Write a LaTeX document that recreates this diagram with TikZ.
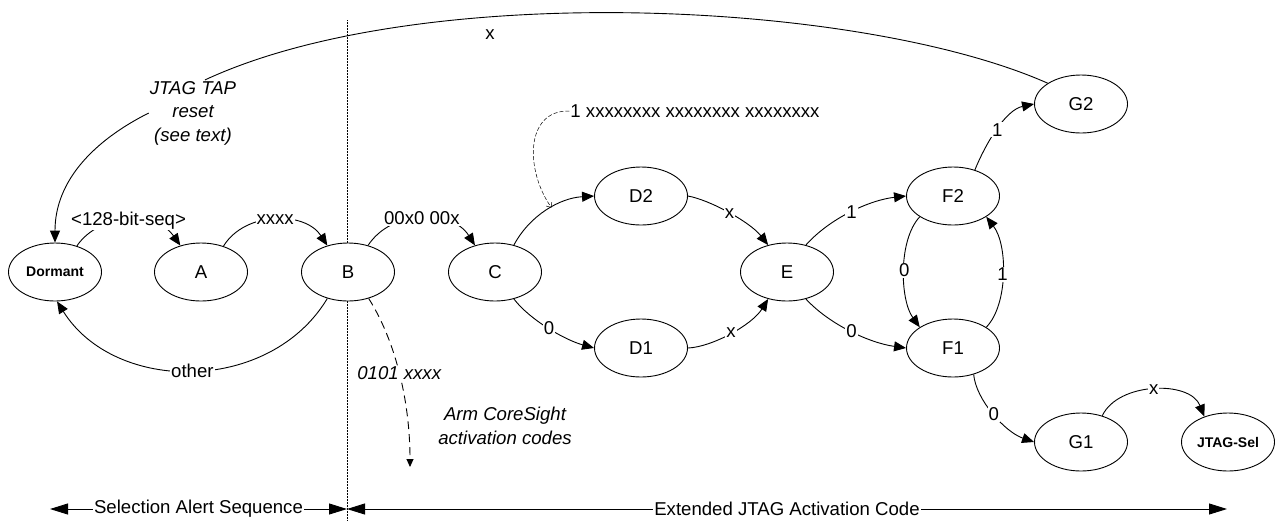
\documentclass[tikz,border=0pt]{standalone}
\usepackage{fontspec}
\setmainfont{Liberation Sans}
\usetikzlibrary{shapes.geometric, arrows.meta}

\begin{document}
\fontsize{18.6}{23.5}\selectfont
\begin{tikzpicture}[x=1pt, y=-1pt,
    state/.style={draw, ellipse, fill=white, line width=0.9pt, minimum width=93pt, minimum height=58pt, inner sep=0pt},
    endstate/.style={state, font=\fontsize{14}{16}\selectfont\bfseries},
    trans/.style={line width=0.9pt, -{Triangle[length=12pt, width=10pt]}},
    lbl/.style={fill=white, inner sep=1pt},
    note/.style={font=\itshape, align=center, inner sep=1pt},
    span/.style={line width=0.9pt, {Triangle[length=18pt, width=11pt]}-{Triangle[length=18pt, width=11pt]}}]

    \useasboundingbox (0,0) rectangle (1276,520);

    % Divider between the two phases
    \draw[line width=0.5pt, densely dotted] (347,20) -- (347,520);

    % States
    \node[endstate] (dormant) at (55,272) {Dormant};
    \node[state] (A) at (201,272) {A};
    \node[state] (B) at (348,272) {B};
    \node[state] (C) at (495,272) {C};
    \node[state] (D2) at (641,196) {D2};
    \node[state] (D1) at (641,348) {D1};
    \node[state] (E) at (787,272) {E};
    \node[state] (F2) at (953,196) {F2};
    \node[state] (F1) at (953,348) {F1};
    \node[state] (G2) at (1081,104) {G2};
    \node[state] (G1) at (1081,442) {G1};
    \node[endstate] (jtagsel) at (1228,442) {JTAG-Sel};

    % Notes
    \node[note] (reset) at (193,113) {JTAG TAP\\reset\\(see text)};
    \node[lbl] (topx) at (490,35) {x};
    \node[lbl] (seq24) at (695,111) {1 xxxxxxxx xxxxxxxx xxxxxxxx};
    \node[note] (coresight) at (505,426) {Arm CoreSight\\activation codes};

    % Selection alert sequence
    \draw[trans] (dormant.50) .. controls (100,212) and (157,212) .. node[lbl, midway] {<128-bit-seq>} (A.128);
    \draw[trans] (A.49) .. controls (245,211) and (305,211) .. node[lbl, midway] {xxxx} (B.128);
    \draw[trans] (B.232) .. controls (270,394) and (115,394) .. node[lbl, midway] {other} (dormant.274);

    % Activation code
    \draw[trans] (B.53) .. controls (392,209) and (452,209) .. node[lbl, midway] {00x0 00x} (C.127);
    \draw[trans] (C.55) .. controls (530,215) and (560,198) .. coordinate[pos=0.55] (hit) (D2.west);
    \draw[trans] (C.-55) .. controls (530,320) and (565,340) .. node[lbl, midway] {0} (D1.west);
    \draw[trans] (D2.east) .. controls (710,200) and (750,222) .. node[lbl, midway] {x} (E.125);
    \draw[trans] (D1.east) .. controls (712,347) and (752,325) .. node[lbl, midway] {x} (E.-125);
    \draw[trans] (E.55) .. controls (830,218) and (870,200) .. node[lbl, midway] {1} (F2.west);
    \draw[trans] (E.-55) .. controls (830,325) and (870,343) .. node[lbl, midway] {0} (F1.west);
    \draw[trans] (F2.212) .. controls (898,240) and (900,300) .. node[lbl, midway] {0} (F1.148);
    \draw[trans] (F1.32) .. controls (1008,305) and (1008,245) .. node[lbl, midway] {1} (F2.-32);
    \draw[trans] (F2.50) .. controls (985,145) and (1005,110) .. node[lbl, midway] {1} (G2.west);
    \draw[trans] (F1.-52) .. controls (976,400) and (1005,432) .. node[lbl, midway] {0} (G1.west);
    \draw[trans] (G1.51) .. controls (1118,382) and (1190,380) .. node[lbl, midway] {x} (jtagsel.133);

    % Back to dormant via TAP reset
    \draw[line width=0.9pt] (G2.148) .. controls (860,0) and (420,-20) .. (reset.70);
    \draw[trans] (reset.west) .. controls (95,140) and (55,180) .. (dormant.north);

    % CoreSight branch and long code
    \coordinate (csend) at (410,467);
    \draw[line width=0.9pt, dash pattern=on 8pt off 5pt, -{Triangle[length=8pt, width=7pt]}]
        (B.-52) .. controls (395,340) and (410,400) .. node[lbl, midway, font=\itshape] {0101 xxxx} (csend);
    \draw[line width=0.5pt, dash pattern=on 4pt off 2pt, -{Straight Barb[length=4pt, width=7pt]}]
        (seq24.west) .. controls (525,110) and (525,170) .. (hit);

    % Phase spans
    \coordinate (sasL) at (50,509);
    \coordinate (split) at (347,509);
    \coordinate (ejcR) at (1227,509);
    \draw[span] (sasL) -- node[lbl] {Selection Alert Sequence} (split);
    \draw[span] (split) -- node[lbl] {Extended JTAG Activation Code} (ejcR);

\end{tikzpicture}
\end{document}
